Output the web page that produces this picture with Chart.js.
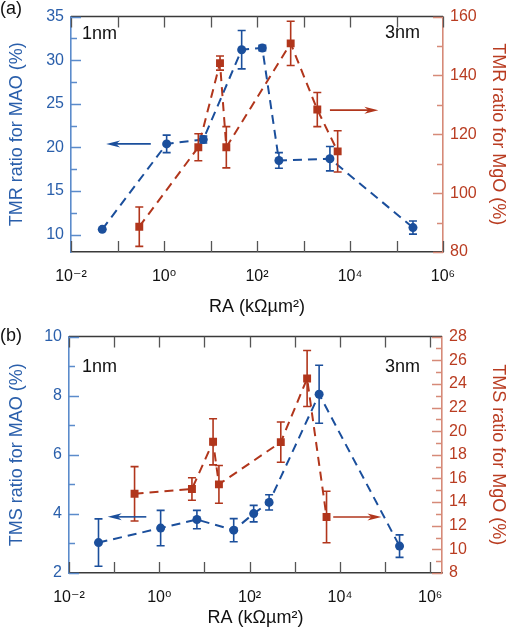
<!DOCTYPE html>
<html>
<head>
<meta charset="utf-8">
<script src="https://cdn.jsdelivr.net/npm/chart.js@4.4.1/dist/chart.umd.min.js"></script>
<style>
  body { margin: 0; background: #fff; }
  #wrap { position: relative; width: 509px; height: 634px; font-family: 'Liberation Sans', Arial, sans-serif; }
  canvas { position: absolute; left: 0; }
  .lbl { position: absolute; font-size: 18px; line-height: 18px; color: #111; white-space: nowrap; }
</style>
</head>
<body>
<div id="wrap">
  <canvas id="chartA" width="509" height="320" style="top:0"></canvas>
  <canvas id="chartB" width="509" height="314" style="top:320px"></canvas>
  <div class="lbl" style="left:0;top:-1px">(a)</div>
  <div class="lbl" style="left:0;top:326px">(b)</div>
  <div class="lbl" style="left:82px;top:24px">1nm</div>
  <div class="lbl" style="left:385px;top:23px">3nm</div>
  <div class="lbl" style="left:82px;top:357px">1nm</div>
  <div class="lbl" style="left:385px;top:357px">3nm</div>
</div>
<script>
// ---------- Data ----------

const xTickVals = [1e-2, 1e0, 1e2, 1e4, 1e6];
const xTickLabels = ['10⁻²', '10⁰', '10²', '10⁴', '10⁶'];
const xDecades = [1e-2, 1e-1, 1e0, 1e1, 1e2, 1e3, 1e4, 1e5, 1e6];

// (a) TMR vs RA
const raMaoA = [0.047, 1.14, 7.0, 46.8, 130, 296, 3700, 226000];
const tmrMao = [10.6, 20.4, 20.9, 31.2, 31.4, 18.5, 18.7, 10.8];
const tmrMaoErr = [0, 1.0, 0.4, 2.2, 0.3, 0.9, 1.4, 0.75];
const raMgoA = [0.294, 5.47, 16.0, 21.9, 530, 1980, 5430];
const tmrMgo = [88.6, 115.6, 144.2, 115.6, 150.9, 128.4, 114.2];
const tmrMgoErr = [6.7, 4.6, 2.4, 7.0, 7.5, 5.8, 7.0];
const yTicksA = [10, 15, 20, 25, 30, 35];
const yMinorA = [12.5, 17.5, 22.5, 27.5, 32.5];
const y2TicksA = [80, 100, 120, 140, 160];
const y2MinorA = [90, 110, 130, 150];
// arrows: [from x, to x, y]
const arrowMaoA = [0.52, 0.057, 20.4];
const arrowMgoA = [3700, 40700, 128.2];

// (b) TMS vs RA
const raMaoB = [0.045, 1.07, 6.8, 44.4, 123, 270, 3460, 209000];
const tmsMao = [3.03, 3.52, 3.81, 3.45, 4.01, 4.39, 8.05, 2.91];
const tmsMaoErr = [0.8, 0.6, 0.31, 0.39, 0.28, 0.26, 0.98, 0.38];
const raMgoB = [0.283, 5.28, 15.5, 20.9, 490, 1875, 5050];
const tmsMgo = [14.7, 15.11, 19.1, 15.5, 19.07, 24.45, 12.74];
const tmsMgoErr = [2.3, 0.95, 1.95, 1.6, 1.7, 2.37, 2.18];
const yTicksB = [2, 4, 6, 8, 10];
const yMinorB = [3, 5, 7, 9];
const y2TicksB = [8, 10, 12, 14, 16, 18, 20, 22, 24, 26, 28];
const y2MinorB = [9, 11, 13, 15, 17, 19, 21, 23, 25, 27];
const arrowMaoB = [0.515, 0.072, 3.9];
const arrowMgoB = [7100, 83000, 12.74];

// ---------- Styles ----------

const BLUE = '#1b4f9c';
const RED = '#b1361c';
const BLUE_TXT = '#2a5fab';
const RED_TXT = '#b93c21';
const BLUE_AX = '#5b8bcb';
const RED_AX = '#d68a78';
const DARK = '#3a3a3a';
const FONT = "'Liberation Sans', 'DejaVu Sans', Arial, sans-serif";

Chart.defaults.font.family = FONT;
Chart.defaults.color = '#111';

function pts(xs, ys) {
  return xs.map((x, i) => ({ x, y: ys[i] }));
}

// ---------- Decorations: error bars, arrows, frame, inward ticks ----------

function decorPlugin(spec) {
  return {
    id: 'decor',
    afterDatasetsDraw(chart) {
      const ctx = chart.ctx;
      const xs = chart.scales.x;

      spec.errors.forEach((e) => {
        const ys = chart.scales[e.axis];
        ctx.save();
        ctx.strokeStyle = e.color;
        ctx.lineWidth = 1.6;
        e.x.forEach((xv, i) => {
          const d = e.err[i];
          if (!d) return;
          const px = xs.getPixelForValue(xv);
          const top = ys.getPixelForValue(e.y[i] + d);
          const bot = ys.getPixelForValue(e.y[i] - d);
          ctx.beginPath();
          ctx.moveTo(px, top); ctx.lineTo(px, bot);
          ctx.moveTo(px - 4, top); ctx.lineTo(px + 4, top);
          ctx.moveTo(px - 4, bot); ctx.lineTo(px + 4, bot);
          ctx.stroke();
        });
        ctx.restore();
      });

      spec.arrows.forEach((a) => {
        const ys = chart.scales[a.axis];
        const x1 = xs.getPixelForValue(a.v[0]);
        const x2 = xs.getPixelForValue(a.v[1]);
        const py = ys.getPixelForValue(a.v[2]);
        const dir = x2 > x1 ? 1 : -1;
        ctx.save();
        ctx.strokeStyle = a.color;
        ctx.fillStyle = a.color;
        ctx.lineWidth = 1.6;
        ctx.beginPath();
        ctx.moveTo(x1, py); ctx.lineTo(x2 - dir * 8, py);
        ctx.stroke();
        ctx.beginPath();
        ctx.moveTo(x2, py);
        ctx.lineTo(x2 - dir * 14, py - 3.5);
        ctx.lineTo(x2 - dir * 10, py);
        ctx.lineTo(x2 - dir * 14, py + 3.5);
        ctx.closePath();
        ctx.fill();
        ctx.restore();
      });
    },
    afterDraw(chart) {
      const ctx = chart.ctx;
      const { left, right, top, bottom } = chart.chartArea;
      const xs = chart.scales.x;
      const yl = chart.scales.y;
      const yr = chart.scales.y2;

      ctx.save();
      // top spine
      ctx.strokeStyle = DARK;
      ctx.lineWidth = 1.5;
      ctx.beginPath();
      ctx.moveTo(left, top); ctx.lineTo(right, top);
      ctx.stroke();

      // x decade ticks, top and bottom, pointing in
      ctx.strokeStyle = '#555';
      ctx.lineWidth = 1.3;
      ctx.beginPath();
      xDecades.forEach((v) => {
        const px = Math.round(xs.getPixelForValue(v)) + 0.5;
        ctx.moveTo(px, bottom); ctx.lineTo(px, bottom - 11);
        ctx.moveTo(px, top); ctx.lineTo(px, top + 11);
      });
      ctx.stroke();

      // left y ticks
      ctx.strokeStyle = BLUE_AX;
      ctx.beginPath();
      spec.yMajor.forEach((v) => {
        const py = Math.round(yl.getPixelForValue(v)) + 0.5;
        ctx.moveTo(left, py); ctx.lineTo(left + 10, py);
      });
      spec.yMinor.forEach((v) => {
        const py = Math.round(yl.getPixelForValue(v)) + 0.5;
        ctx.moveTo(left, py); ctx.lineTo(left + 6, py);
      });
      ctx.stroke();

      // right y ticks
      ctx.strokeStyle = RED_AX;
      ctx.beginPath();
      spec.y2Major.forEach((v) => {
        const py = Math.round(yr.getPixelForValue(v)) + 0.5;
        ctx.moveTo(right, py); ctx.lineTo(right - 10, py);
      });
      spec.y2Minor.forEach((v) => {
        const py = Math.round(yr.getPixelForValue(v)) + 0.5;
        ctx.moveTo(right, py); ctx.lineTo(right - 6, py);
      });
      ctx.stroke();
      ctx.restore();
    }
  };
}

// ---------- Chart builder ----------

function buildChart(id, cfg) {
  const ctx = document.getElementById(id).getContext('2d');
  return new Chart(ctx, {
    type: 'line',
    data: {
      datasets: [
        {
          label: 'MAO',
          data: pts(cfg.maoX, cfg.maoY),
          yAxisID: 'y',
          borderColor: BLUE,
          backgroundColor: BLUE,
          pointBackgroundColor: BLUE,
          pointBorderWidth: 0,
          pointStyle: 'circle',
          pointRadius: 4.5,
          borderWidth: 2,
          borderDash: [9, 6],
          tension: 0,
          fill: false
        },
        {
          label: 'MgO',
          data: pts(cfg.mgoX, cfg.mgoY),
          yAxisID: 'y2',
          borderColor: RED,
          backgroundColor: RED,
          pointBackgroundColor: RED,
          pointBorderWidth: 0,
          pointStyle: 'rect',
          pointRadius: 5.6,
          borderWidth: 2,
          borderDash: [9, 6],
          tension: 0,
          fill: false
        }
      ]
    },
    options: {
      responsive: false,
      animation: false,
      events: [],
      layout: { padding: { top: cfg.padTop, left: 0, right: 0, bottom: 0 } },
      plugins: { legend: { display: false }, tooltip: { enabled: false } },
      scales: {
        x: {
          type: 'logarithmic',
          position: 'bottom',
          min: 1e-2,
          max: cfg.xMax,
          afterBuildTicks: (s) => { s.ticks = xTickVals.map((v) => ({ value: v })); },
          afterFit: (s) => { s.height = cfg.xHeight; },
          ticks: {
            callback: (v, i) => xTickLabels[i],
            color: '#111',
            font: { size: 16 },
            padding: 15,
            autoSkip: false,
            maxRotation: 0
          },
          grid: { display: false, drawTicks: false },
          border: { color: DARK, width: 1.5 },
          title: {
            display: true,
            text: 'RA (kΩµm²)',
            color: '#111',
            font: { size: 18 },
            padding: { top: 0, bottom: cfg.xTitlePad }
          }
        },
        y: {
          type: 'linear',
          position: 'left',
          min: cfg.yMin,
          max: cfg.yMax,
          afterBuildTicks: (s) => { s.ticks = cfg.yMajor.map((v) => ({ value: v })); },
          afterFit: (s) => { s.width = cfg.leftW; },
          ticks: { color: BLUE_TXT, font: { size: 16 }, padding: 7 },
          grid: { display: false, drawTicks: false },
          border: { color: BLUE_AX, width: 1.6 },
          title: {
            display: true,
            text: cfg.yTitle,
            color: BLUE_TXT,
            font: { size: 18 },
            padding: { top: 6, bottom: 0 }
          }
        },
        y2: {
          type: 'linear',
          position: 'right',
          min: cfg.y2Min,
          max: cfg.y2Max,
          afterBuildTicks: (s) => { s.ticks = cfg.y2Major.map((v) => ({ value: v })); },
          afterFit: (s) => { s.width = cfg.rightW; },
          ticks: { color: RED_TXT, font: { size: 16 }, padding: 7 },
          grid: { display: false, drawTicks: false },
          border: { color: RED_AX, width: 1.6 },
          title: {
            display: true,
            text: cfg.y2Title,
            color: RED_TXT,
            font: { size: 18 },
            padding: { top: 0, bottom: 0 }
          }
        }
      }
    },
    plugins: [decorPlugin({
      errors: [
        { axis: 'y', color: BLUE, x: cfg.maoX, y: cfg.maoY, err: cfg.maoErr },
        { axis: 'y2', color: RED, x: cfg.mgoX, y: cfg.mgoY, err: cfg.mgoErr }
      ],
      arrows: [
        { axis: 'y', color: BLUE, v: cfg.maoArrow },
        { axis: 'y2', color: RED, v: cfg.mgoArrow }
      ],
      yMajor: cfg.yMajor, yMinor: cfg.yMinor,
      y2Major: cfg.y2Major, y2Minor: cfg.y2Minor
    })]
  });
}

// ---------- Main ----------

buildChart('chartA', {
  maoX: raMaoA, maoY: tmrMao, maoErr: tmrMaoErr,
  mgoX: raMgoA, mgoY: tmrMgo, mgoErr: tmrMgoErr,
  maoArrow: arrowMaoA, mgoArrow: arrowMgoA,
  yMin: 8, yMax: 35, yMajor: yTicksA, yMinor: yMinorA,
  y2Min: 80, y2Max: 160, y2Major: y2TicksA, y2Minor: y2MinorA,
  yTitle: 'TMR ratio for MAO (%)', y2Title: 'TMR ratio for MgO (%)',
  xMax: 1e6, padTop: 9, xHeight: 68, leftW: 71, rightW: 66, xTitlePad: 2
});

buildChart('chartB', {
  maoX: raMaoB, maoY: tmsMao, maoErr: tmsMaoErr,
  mgoX: raMgoB, mgoY: tmsMgo, mgoErr: tmsMgoErr,
  maoArrow: arrowMaoB, mgoArrow: arrowMgoB,
  yMin: 2, yMax: 10, yMajor: yTicksB, yMinor: yMinorB,
  y2Min: 8, y2Max: 28, y2Major: y2TicksB, y2Minor: y2MinorB,
  yTitle: 'TMS ratio for MAO (%)', y2Title: 'TMS ratio for MgO (%)',
  xMax: 1.82e6, padTop: 14, xHeight: 61, leftW: 69, rightW: 67, xTitlePad: 5
});
</script>
</body>
</html>
